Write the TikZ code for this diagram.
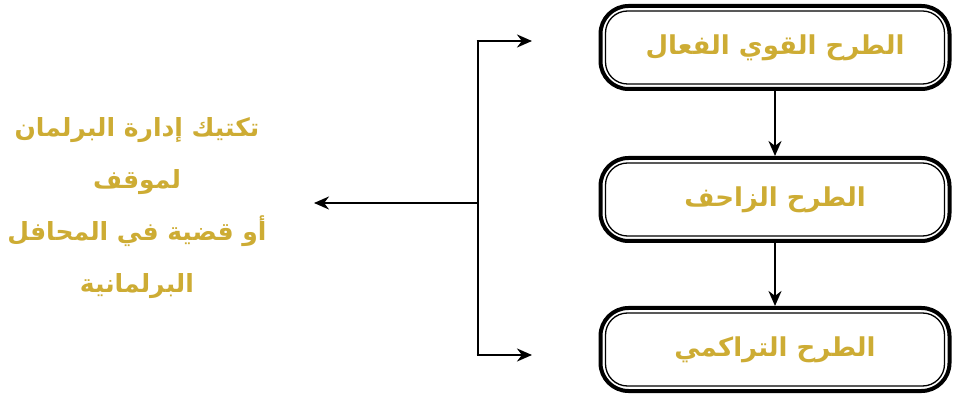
\documentclass[tikz,border=0pt]{standalone}
\usepackage{fontspec}
\TeXXeTstate=1
\newfontfamily\arabicfont[Script=Arabic]{DejaVu Sans}
\usetikzlibrary{arrows.meta}
\definecolor{gold}{RGB}{205,172,52}
\tikzset{
  outerbox/.style={draw=black, line width=4pt, rounded corners=28pt, minimum width=349pt, minimum height=83pt, inner sep=0pt, font=\arabicfont\bfseries\fontsize{26}{32}\selectfont, text=gold},
  innerbox/.style={draw=black, line width=1.3pt, rounded corners=22pt},
  flow/.style={line width=2.5pt, -{Stealth[length=15pt,width=13pt]}},
  brk/.style={line width=2.6pt},
  lefttext/.style={align=center, text=gold, font=\arabicfont\bfseries\fontsize{25}{52}\selectfont}
}
\begin{document}
\begin{tikzpicture}[x=1pt,y=-1pt]
\useasboundingbox (0,0) rectangle (953,395);
\node[outerbox] (b1) at (775,47.5) {\beginR الطرح القوي الفعال\endR};
\node[outerbox] (b2) at (775,199.5) {\beginR الطرح الزاحف\endR};
\node[outerbox] (b3) at (775,349.5) {\beginR الطرح التراكمي\endR};
\foreach \b in {b1,b2,b3}{
  \draw[innerbox] ([xshift=7pt,yshift=-7pt]\b.north west) rectangle ([xshift=-7pt,yshift=7pt]\b.south east);
}
\draw[flow] (b1.south) -- (b2.north);
\draw[flow] (b2.south) -- (b3.north);
\node[lefttext] (lt) at (137,208) {\beginR تكتيك إدارة البرلمان\endR\\\beginR لموقف\endR\\\beginR أو قضية في المحافل\endR\\\beginR البرلمانية\endR};
\coordinate (top) at (478,41);
\coordinate (bot) at (478,355);
\coordinate (mid) at (478,203);
\coordinate (topend) at (532,41);
\coordinate (botend) at (532,355);
\coordinate (leftend) at (314,203);
\draw[brk] (top) -- (bot);
\draw[flow] ([xshift=-1.3pt]top) -- (topend);
\draw[flow] ([xshift=-1.3pt]bot) -- (botend);
\draw[flow, line width=2pt] (mid) -- (leftend);
\end{tikzpicture}
\end{document}
